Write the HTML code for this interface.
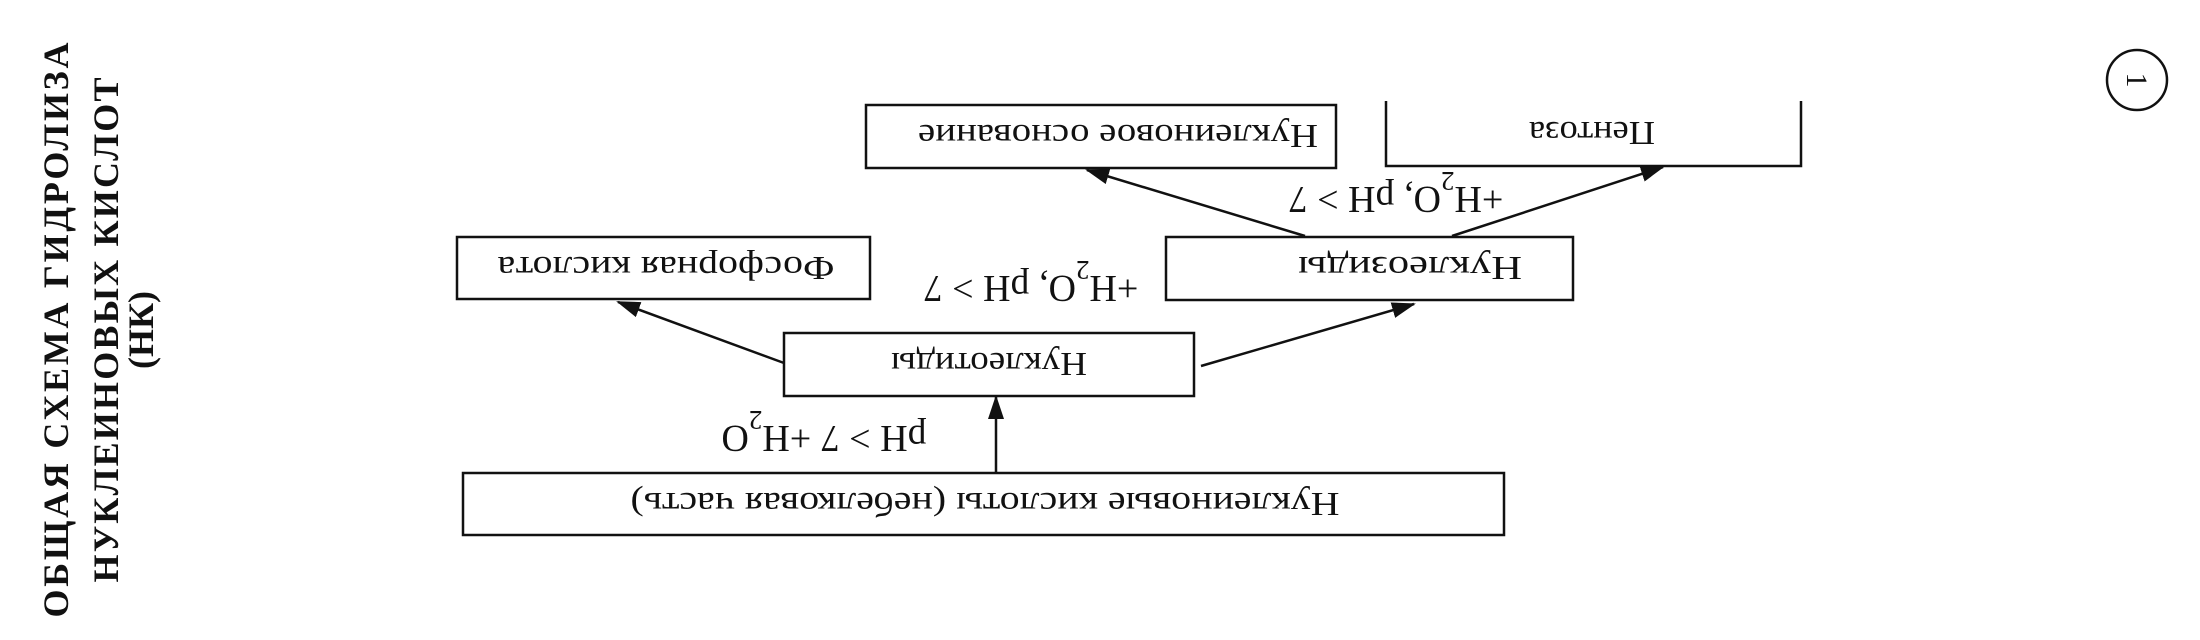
<!DOCTYPE html>
<html><head><meta charset="utf-8"><style>
html,body{margin:0;padding:0;background:#fff;}
svg{display:block;}
text{font-family:"Liberation Serif",serif;fill:#111;}
</style></head><body>
<svg width="2200" height="640" viewBox="0 0 2200 640" xmlns="http://www.w3.org/2000/svg">
<defs>
<marker id="ah2" markerWidth="24" markerHeight="16" refX="22" refY="8" orient="auto" markerUnits="userSpaceOnUse">
<path d="M0,0 L24,8 L0,16 Z" fill="#111"/>
</marker>
</defs>
<g font-size="36" font-weight="bold" text-anchor="middle">
<text transform="translate(68,330) rotate(-90)" textLength="575" lengthAdjust="spacing">ОБЩАЯ СХЕМА ГИДРОЛИЗА</text>
<text transform="translate(118,330) rotate(-90)" textLength="505" lengthAdjust="spacing">НУКЛЕИНОВЫХ КИСЛОТ</text>
<text transform="translate(153,330) rotate(-90)">(НК)</text>
</g>
<circle cx="2137" cy="80" r="30" fill="none" stroke="#111" stroke-width="2.5"/>
<text transform="translate(2137,80) rotate(90)" font-size="30" text-anchor="middle" dy="10">1</text>
<g fill="none" stroke="#111" stroke-width="2.5">
<rect x="463" y="473" width="1041" height="62"/>
<rect x="784" y="333" width="410" height="63"/>
<rect x="457" y="237" width="413" height="62"/>
<rect x="1166" y="237" width="407" height="63"/>
<rect x="866" y="105" width="470" height="63"/>
<path d="M1386,101 L1386,166 L1801,166 L1801,101"/>
</g>
<g stroke="#111" stroke-width="2.5" fill="none">
<line x1="996" y1="473" x2="996" y2="397" marker-end="url(#ah2)"/>
<line x1="784" y1="363" x2="618" y2="302" marker-end="url(#ah2)"/>
<line x1="1201" y1="366" x2="1414" y2="304" marker-end="url(#ah2)"/>
<line x1="1305" y1="236" x2="1087" y2="170" marker-end="url(#ah2)"/>
<line x1="1452" y1="236" x2="1663" y2="167" marker-end="url(#ah2)"/>
</g>
<g font-size="34" text-anchor="middle">
<text transform="translate(985,504) rotate(180)" dy="11" textLength="709" lengthAdjust="spacingAndGlyphs">Нуклеиновые кислоты (небелковая часть)</text>
<text transform="translate(989,364) rotate(180)" dy="11" textLength="196" lengthAdjust="spacingAndGlyphs">Нуклеотиды</text>
<text transform="translate(666,268) rotate(180)" dy="11" textLength="337" lengthAdjust="spacingAndGlyphs">Фосфорная кислота</text>
<text transform="translate(1410,268) rotate(180)" dy="11" textLength="224" lengthAdjust="spacingAndGlyphs">Нуклеозиды</text>
<text transform="translate(1118,136) rotate(180)" dy="11" textLength="400" lengthAdjust="spacingAndGlyphs">Нуклеиновое основание</text>
<text transform="translate(1592,133) rotate(180)" dy="11" textLength="126" lengthAdjust="spacingAndGlyphs">Пентоза</text>
</g>
<g font-size="38" text-anchor="middle">
<text transform="translate(824,438) rotate(180)" dy="12">pH &gt; 7 +H<tspan baseline-shift="sub" font-size="27">2</tspan>O</text>
<text transform="translate(1031,288) rotate(180)" dy="12">+H<tspan baseline-shift="sub" font-size="27">2</tspan>O, pH &gt; 7</text>
<text transform="translate(1396,199) rotate(180)" dy="12">+H<tspan baseline-shift="sub" font-size="27">2</tspan>O, pH &gt; 7</text>
</g>
</svg>
</body></html>
